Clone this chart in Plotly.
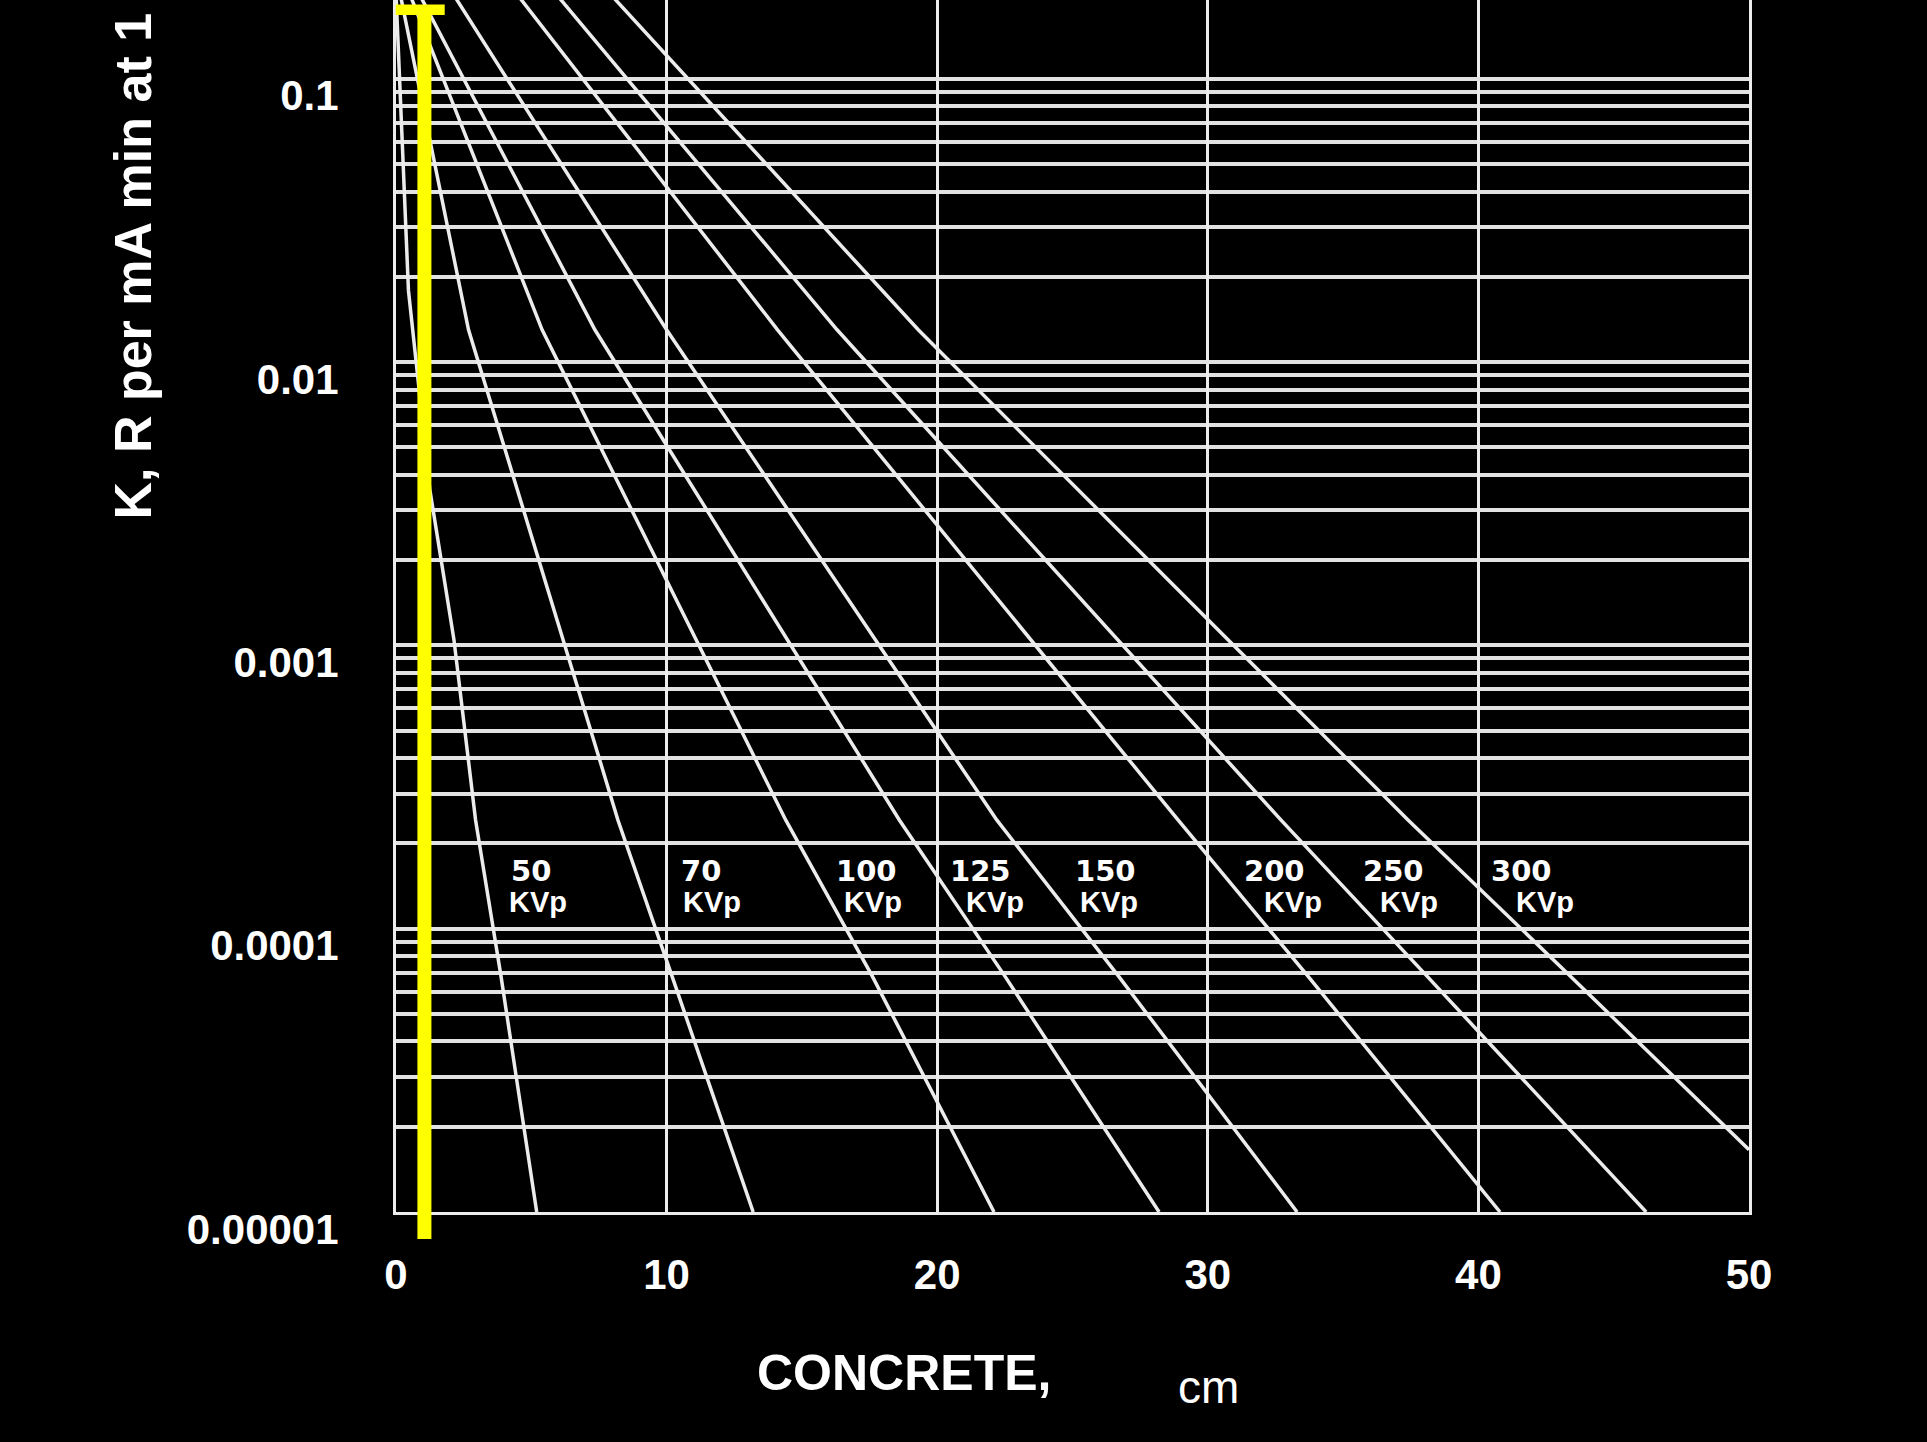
import math
import plotly.graph_objects as go

# Output K (R per mA min at 1 m) versus concrete thickness (cm), one curve per tube potential
kvp = ["50", "70", "100", "125", "150", "200", "250", "300"]

cm_50 = [0.0, 0.46, 1.25, 2.14, 2.94, 3.88, 5.2]
k_50 = [0.2, 0.0179, 0.00355, 0.00105, 0.000242, 0.000068, 0.00001]

cm_70 = [0.15, 2.68, 7.2, 8.2, 10.2, 13.2]
k_70 = [0.2, 0.013, 0.0005, 0.000242, 0.000068, 0.00001]

cm_100 = [0.5, 5.4, 14.4, 17.6, 22.1]
k_100 = [0.2, 0.013, 0.000242, 0.000068, 0.00001]

cm_125 = [0.85, 7.35, 18.6, 22.5, 28.2]
k_125 = [0.2, 0.013, 0.000242, 0.000068, 0.00001]

cm_150 = [2.1, 10.0, 22.2, 26.7, 33.3]
k_150 = [0.2, 0.013, 0.000242, 0.000068, 0.00001]

cm_200 = [4.45, 14.1, 28.9, 33.7, 40.8]
k_200 = [0.2, 0.013, 0.000242, 0.000068, 0.00001]

cm_250 = [5.9, 16.3, 32.7, 38.1, 46.2]
k_250 = [0.2, 0.013, 0.000242, 0.000068, 0.00001]

cm_300 = [7.9, 19.3, 37.4, 43.4, 50.0]
k_300 = [0.2, 0.013, 0.000242, 0.000068, 0.0000166]

curves = {
    "50": (cm_50, k_50),
    "70": (cm_70, k_70),
    "100": (cm_100, k_100),
    "125": (cm_125, k_125),
    "150": (cm_150, k_150),
    "200": (cm_200, k_200),
    "250": (cm_250, k_250),
    "300": (cm_300, k_300),
}

x_ticks = [0, 10, 20, 30, 40, 50]
y_ticks = [0.00001, 0.0001, 0.001, 0.01, 0.1]
y_tick_text = ["0.00001", "0.0001", "0.001", "0.01", "0.1"]

marked_thickness_cm = 1.05

# label placement (left edge of the number and of "KVp", in cm)
label_left = {
    "50": (4.16, 4.10),
    "70": (10.46, 10.55),
    "100": (16.2, 16.48),
    "125": (20.4, 20.99),
    "150": (25.0, 25.2),
    "200": (31.26, 32.0),
    "250": (35.66, 36.29),
    "300": (40.41, 41.3),
}
label_row_k = (1.6e-4, 1.24e-4)

X_RANGE = [0, 50]
Y_RANGE = [-5, -0.722]

LINE = "#ececec"
GRID = "#e2e2e2"
SANS = "Liberation Sans, Arial, sans-serif"
TICK_FONT = dict(family=SANS, size=42, color="white", weight="bold")

fig = go.Figure()

for name in kvp:
    xs, ks = curves[name]
    fig.add_trace(go.Scatter(
        x=xs, y=ks, mode="lines", name=f"{name} kVp",
        line=dict(color=LINE, width=3.5),
        hoverinfo="skip",
    ))

annotations = []
for name in kvp:
    num_x, unit_x = label_left[name]
    annotations.append(dict(
        x=num_x, y=math.log10(label_row_k[0]), xref="x", yref="y",
        text=name, showarrow=False, xanchor="left", yanchor="middle",
        font=dict(family="DejaVu Sans, Verdana, sans-serif", size=29, color="white", weight="bold"),
    ))
    annotations.append(dict(
        x=unit_x, y=math.log10(label_row_k[1]), xref="x", yref="y",
        text="KVp", showarrow=False, xanchor="left", yanchor="middle",
        font=dict(family=SANS, size=29, color="white", weight="bold"),
    ))

annotations.append(dict(
    x=0.3758, y=-0.1328, xref="paper", yref="paper",
    text="CONCRETE,", showarrow=False, xanchor="center", yanchor="middle",
    font=dict(family=SANS, size=50, color="white", weight="bold"),
))
annotations.append(dict(
    x=0.6006, y=-0.1441, xref="paper", yref="paper",
    text="cm", showarrow=False, xanchor="center", yanchor="middle",
    font=dict(family=SANS, size=46, color="white"),
))
annotations.append(dict(
    x=-0.1951, y=0.5693, xref="paper", yref="paper",
    text="K, R per mA min at 1 m", showarrow=False, textangle=-90,
    xanchor="center", yanchor="bottom",
    font=dict(family=SANS, size=52, color="white", weight="bold"),
))

# yellow marker at the chosen thickness, with a short cap at the top
mark_px = marked_thickness_cm / (X_RANGE[1] - X_RANGE[0])
shapes = [
    dict(type="line", xref="paper", yref="paper",
         x0=mark_px, x1=mark_px, y0=-0.0223, y1=0.992,
         line=dict(color="#ffff00", width=14)),
    dict(type="rect", xref="paper", yref="paper",
         x0=mark_px - 0.0212, x1=mark_px + 0.0150, y0=0.9876, y1=0.9962,
         line=dict(width=0), fillcolor="#ffff00"),
]

fig.update_layout(
    width=1927, height=1442,
    margin=dict(l=396, r=178, t=0, b=230),
    paper_bgcolor="black", plot_bgcolor="black",
    showlegend=False,
    annotations=annotations,
    shapes=shapes,
    xaxis=dict(
        range=X_RANGE, tickvals=x_ticks, ticktext=[str(v) for v in x_ticks],
        showgrid=True, gridcolor=LINE, gridwidth=2.5,
        showline=True, linecolor=LINE, linewidth=3,
        zeroline=False, ticks="", ticklabelstandoff=24,
        tickfont=TICK_FONT,
    ),
    yaxis=dict(
        type="log", range=Y_RANGE, tickvals=y_ticks, ticktext=y_tick_text,
        showgrid=True, gridcolor=GRID, gridwidth=3.5,
        minor=dict(dtick="D1", showgrid=True, gridcolor=GRID, gridwidth=3.5, ticks=""),
        showline=True, mirror=True, linecolor=LINE, linewidth=3,
        zeroline=False, ticks="", ticklabelstandoff=46, ticklabelshift=17,
        tickfont=TICK_FONT,
    ),
)

fig.write_html("out.html")
